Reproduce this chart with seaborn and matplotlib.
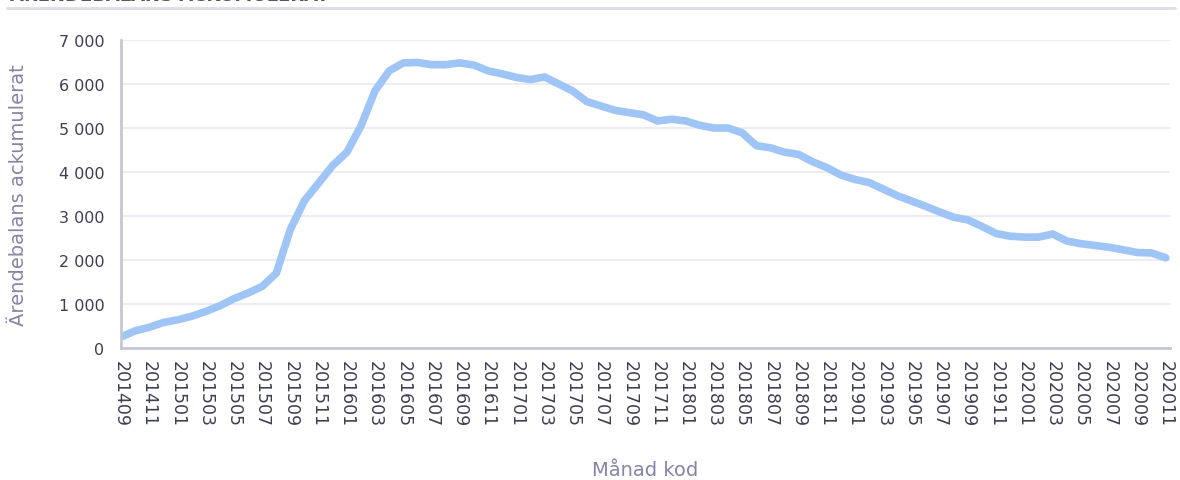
import pandas as pd
import seaborn as sns
import matplotlib.pyplot as plt
from matplotlib.lines import Line2D
from matplotlib.ticker import FuncFormatter

# month codes 201409 .. 202011
months = list(pd.period_range("2014-09", "2020-11", freq="M").strftime("%Y%m"))

balance = [
    250, 390, 470, 580, 640, 720, 830, 960, 1120, 1250,
    1400, 1700, 2700, 3350, 3750, 4150, 4450, 5050, 5850, 6300,
    6480, 6490, 6440, 6440, 6480, 6430, 6300, 6230, 6150, 6100,
    6160, 6000, 5840, 5600, 5500, 5400, 5350, 5300, 5160, 5200,
    5160, 5060, 5000, 5000, 4890, 4600, 4550, 4450, 4400, 4230,
    4100, 3930, 3830, 3760, 3610, 3460, 3340, 3220, 3090, 2970,
    2910, 2760, 2600, 2540, 2520, 2520, 2590, 2430, 2370, 2330,
    2290, 2230, 2170, 2160, 2050,
]

df = pd.DataFrame({"pos": range(len(months)), "month": months, "balance": balance})

line_color = "#9ec5f6"
tick_color = "#3e3e52"
label_color = "#8585a6"
axis_color = "#c5c7d6"
grid_color = "#ececf2"

sns.set_theme(style="white")
plt.rcParams["font.family"] = ["DejaVu Sans"]

fig = plt.figure(figsize=(11.8, 4.81), dpi=100)
ax = fig.add_axes([121 / 1180, 1 - 349 / 481, (1170 - 121) / 1180, (349 - 41) / 481])

sns.lineplot(data=df, x="pos", y="balance", color=line_color, linewidth=5.5, ax=ax)

ax.set_xlim(0, 74.3)
ax.set_ylim(0, 7000)
ax.set_yticks(range(0, 7001, 1000))
ax.yaxis.set_major_formatter(FuncFormatter(lambda v, p: f"{int(v):,}".replace(",", " ")))
ax.set_xticks(df["pos"][::2])
ax.set_xticklabels(df["month"][::2], rotation=270)
ax.tick_params(axis="both", length=0, colors=tick_color, labelsize=11.5)
ax.tick_params(axis="x", pad=9, labelsize=12.5)
ax.tick_params(axis="y", pad=12)

ax.grid(axis="y", color=grid_color, linewidth=1.5)
ax.set_axisbelow(True)
for side in ["top", "right"]:
    ax.spines[side].set_visible(False)
for side in ["left", "bottom"]:
    ax.spines[side].set_color(axis_color)
    ax.spines[side].set_linewidth(2)

ax.set_xlabel("Månad kod", color=label_color, fontsize=14, labelpad=24)
ax.set_ylabel("Ärendebalans ackumulerat", color=label_color, fontsize=14, labelpad=22)

# title strip, cut off at the top edge as in the source
fig.text(10 / 1180, 1 - 1 / 481, "ÄRENDEBALANS ACKUMULERAT", fontsize=13,
         fontweight="bold", color="#555566", va="baseline")
fig.add_artist(Line2D([7 / 1180, 1175 / 1180], [1 - 9 / 481, 1 - 9 / 481],
                      transform=fig.transFigure, color="#dcdde6", linewidth=2))

fig.savefig("out.png", dpi=100)
